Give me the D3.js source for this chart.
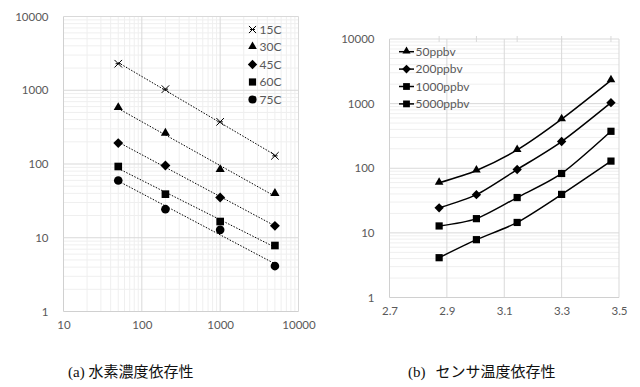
<!DOCTYPE html>
<html>
<head>
<meta charset="utf-8">
<script src="https://cdn.jsdelivr.net/npm/d3@7"></script>
<style>
  body { margin: 0; background: #fff; }
  text { font-family: Lato, "Liberation Sans", sans-serif; }
</style>
</head>
<body>
<div id="chart"></div>
<script>
// data
var concentrations = [50, 200, 1000, 5000];          // ppbv, left x
var invTemps = [2.873, 3.003, 3.145, 3.300, 3.472];    // 1000/T, right x
var tempNames = ["15C", "30C", "45C", "60C", "75C"];
var concNames = ["50ppbv", "200ppbv", "1000ppbv", "5000ppbv"];

var v15C = [2290, 1035, 373, 129];
var v30C = [575, 259, 83, 39.4];
var v45C = [192, 95.5, 35.2, 14.5];
var v60C = [92.5, 39, 16.6, 7.85];
var v75C = [59.7, 24.4, 12.8, 4.13];

var yTicks = [1, 10, 100, 1000, 10000];
var xTicksLeft = [10, 100, 1000, 10000];
var xTicksRight = [2.7, 2.9, 3.1, 3.3, 3.5];

var tempSeries = [v15C, v30C, v45C, v60C, v75C];
var tempSymbols = ["x", "triangle", "diamond", "square", "circle"];
var concSymbols = ["triangle", "diamond", "square", "square"];

var svg = d3.select("#chart").append("svg")
    .attr("width", 640)
    .attr("height", 387);

var axisColor = "#d0d0d0", majorColor = "#d9d9d9", minorColor = "#efefef", labelColor = "#595959";

function minorValues(lo, hi) {
    var out = [];
    for (var d = lo; d < hi; d *= 10)
        for (var k = 2; k <= 9; k++) out.push(d * k);
    return out;
}

function drawSymbol(g, type, x, y, s) {
    if (type == "x") {
        var r = s * 0.42;
        g.append("path")
            .attr("d", "M" + (x - r) + "," + (y - r) + "L" + (x + r) + "," + (y + r) +
                "M" + (x + r) + "," + (y - r) + "L" + (x - r) + "," + (y + r) +
                "M" + (x - r * 0.7) + "," + y + "L" + (x + r * 0.7) + "," + y)
            .attr("stroke", "#000").attr("stroke-width", 1).attr("fill", "none");
        return;
    }
    if (type == "diamond") {
        var h = s * 0.55;
        g.append("path")
            .attr("d", "M" + x + "," + (y - h) + "L" + (x + h) + "," + y + "L" + x + "," + (y + h) + "L" + (x - h) + "," + y + "Z")
            .attr("fill", "#000");
        return;
    }
    var sym = { triangle: d3.symbolTriangle, square: d3.symbolSquare, circle: d3.symbolCircle }[type];
    var area = { triangle: s * s * 0.45, square: s * s * 0.72, circle: s * s * 0.72 }[type];
    var dy = type == "triangle" ? -0.5 : 0;
    g.append("path")
        .attr("d", d3.symbol().type(sym).size(area)())
        .attr("transform", "translate(" + x + "," + (y + dy) + ")")
        .attr("fill", "#000");
}

// ---------- (a) left chart ----------
var xL = d3.scaleLog().domain([10, 10000]).range([63.5, 298.5]);
var yL = d3.scaleLog().domain([1, 10000]).range([311.5, 16.5]);

var left = svg.append("g");

// minor grid
left.selectAll(".minx").data(minorValues(10, 10000)).enter().append("line")
    .attr("x1", function (d) { return xL(d); }).attr("x2", function (d) { return xL(d); })
    .attr("y1", yL(1)).attr("y2", yL(10000))
    .attr("stroke", minorColor);
left.selectAll(".miny").data(minorValues(1, 10000)).enter().append("line")
    .attr("y1", function (d) { return yL(d); }).attr("y2", function (d) { return yL(d); })
    .attr("x1", xL(10)).attr("x2", xL(10000))
    .attr("stroke", minorColor);
// major grid
left.selectAll(".majx").data(xTicksLeft).enter().append("line")
    .attr("x1", function (d) { return xL(d); }).attr("x2", function (d) { return xL(d); })
    .attr("y1", yL(1)).attr("y2", yL(10000))
    .attr("stroke", function (d) { return d == 10 ? axisColor : majorColor; });
left.selectAll(".majy").data(yTicks).enter().append("line")
    .attr("y1", function (d) { return yL(d); }).attr("y2", function (d) { return yL(d); })
    .attr("x1", xL(10)).attr("x2", xL(10000))
    .attr("stroke", function (d) { return d == 1 ? axisColor : majorColor; });

// axes labels
var axL = left.append("g").attr("transform", "translate(0," + (yL(1) + 6) + ")")
    .call(d3.axisBottom(xL).tickValues(xTicksLeft).tickFormat(d3.format("d")).tickSize(0));
var ayL = left.append("g").attr("transform", "translate(" + (xL(10) - 12) + ",0)")
    .call(d3.axisLeft(yL).tickValues(yTicks).tickFormat(d3.format("d")).tickSize(0));
[axL, ayL].forEach(function (a) {
    a.select(".domain").remove();
    a.selectAll("text").attr("fill", labelColor).style("font-size", "11.5px")
        .style("font-family", "Lato, 'Liberation Sans', sans-serif");
});

// trendlines (least squares power fit) and markers
tempSeries.forEach(function (vals, i) {
    var lx = concentrations.map(function (c) { return Math.log10(c); });
    var ly = vals.map(function (v) { return Math.log10(v); });
    var mx = d3.mean(lx), my = d3.mean(ly);
    var b = d3.sum(lx, function (x, j) { return (x - mx) * (ly[j] - my); }) /
        d3.sum(lx, function (x) { return (x - mx) * (x - mx); });
    var a = my - b * mx;
    var x0 = concentrations[0], x1 = concentrations[concentrations.length - 1];
    left.append("line")
        .attr("x1", xL(x0)).attr("y1", yL(Math.pow(10, a + b * Math.log10(x0))))
        .attr("x2", xL(x1)).attr("y2", yL(Math.pow(10, a + b * Math.log10(x1))))
        .attr("stroke", "#000").attr("stroke-width", 1)
        .attr("stroke-dasharray", "1.5,1.5");
    vals.forEach(function (v, j) {
        drawSymbol(left, tempSymbols[i], xL(concentrations[j]), yL(v), 9);
    });
});

// legend (a)
tempNames.forEach(function (n, i) {
    var y = 29.5 + i * 17.5;
    drawSymbol(left, tempSymbols[i], 252.5, y, 8.5);
    left.append("text").attr("x", 259.5).attr("y", y).attr("dy", "0.35em")
        .attr("fill", labelColor).style("font-size", "12px").text(n);
});

// ---------- (b) right chart ----------
var xR = d3.scaleLinear().domain([2.7, 3.5]).range([389.5, 619]);
var yR = d3.scaleLog().domain([1, 10000]).range([297.5, 39]);

var right = svg.append("g");

right.selectAll(".miny").data(minorValues(1, 10000)).enter().append("line")
    .attr("y1", function (d) { return yR(d); }).attr("y2", function (d) { return yR(d); })
    .attr("x1", xR(2.7)).attr("x2", xR(3.5))
    .attr("stroke", minorColor);
right.selectAll(".majx").data(xTicksRight).enter().append("line")
    .attr("x1", function (d) { return xR(d); }).attr("x2", function (d) { return xR(d); })
    .attr("y1", yR(1)).attr("y2", yR(10000))
    .attr("stroke", function (d) { return d == 2.7 ? axisColor : majorColor; });
right.selectAll(".majy").data(yTicks).enter().append("line")
    .attr("y1", function (d) { return yR(d); }).attr("y2", function (d) { return yR(d); })
    .attr("x1", xR(2.7)).attr("x2", xR(3.5))
    .attr("stroke", function (d) { return d == 1 ? axisColor : majorColor; });
// small marks at the top at each data x
right.selectAll(".topmark").data(invTemps).enter().append("line")
    .attr("x1", function (d) { return xR(d); }).attr("x2", function (d) { return xR(d); })
    .attr("y1", yR(10000) - 3).attr("y2", yR(10000) + 3)
    .attr("stroke", majorColor);

var axR = right.append("g").attr("transform", "translate(0," + (yR(1) + 6) + ")")
    .call(d3.axisBottom(xR).tickValues(xTicksRight).tickFormat(d3.format(".1f")).tickSize(0));
var ayR = right.append("g").attr("transform", "translate(" + (xR(2.7) - 12) + ",0)")
    .call(d3.axisLeft(yR).tickValues(yTicks).tickFormat(d3.format("d")).tickSize(0));
[axR, ayR].forEach(function (a) {
    a.select(".domain").remove();
    a.selectAll("text").attr("fill", labelColor).style("font-size", "11.5px")
        .style("font-family", "Lato, 'Liberation Sans', sans-serif");
});

// series by concentration: values go 75C -> 15C along increasing 1000/T
var byTemp = [v75C, v60C, v45C, v30C, v15C];
var line = d3.line()
    .x(function (d) { return xR(d[0]); })
    .y(function (d) { return yR(d[1]); })
    .curve(d3.curveCardinal.tension(0.2));

concNames.forEach(function (n, k) {
    var pts = invTemps.map(function (t, i) { return [t, byTemp[i][k]]; });
    right.append("path").attr("d", line(pts))
        .attr("fill", "none").attr("stroke", "#000").attr("stroke-width", 1.5);
    pts.forEach(function (p) {
        drawSymbol(right, concSymbols[k], xR(p[0]), yR(p[1]), 8.5);
    });
});

// legend (b)
concNames.forEach(function (n, k) {
    var y = 51.7 + k * 17.4;
    right.append("line").attr("x1", 399).attr("x2", 414).attr("y1", y).attr("y2", y)
        .attr("stroke", "#000").attr("stroke-width", 1.5);
    drawSymbol(right, concSymbols[k], 406.5, y, 8);
    right.append("text").attr("x", 415.5).attr("y", y).attr("dy", "0.35em")
        .attr("fill", labelColor).style("font-size", "12px").text(n);
});

// captions
var capFont = "'Noto Sans CJK JP', sans-serif";
var capA = svg.append("text").attr("x", 68).attr("y", 377)
    .style("font-size", "15px").style("font-family", capFont).attr("fill", "#111");
capA.append("tspan").style("font-family", "'Liberation Serif', serif").text("(a) ");
capA.append("tspan").text("水素濃度依存性");
var capB = svg.append("text").attr("x", 408).attr("y", 377)
    .style("font-size", "15px").style("font-family", capFont).attr("fill", "#111");
capB.append("tspan").style("font-family", "'Liberation Serif', serif").text("(b)");
capB.append("tspan").attr("dx", 10).text("センサ温度依存性");
</script>
</body>
</html>
